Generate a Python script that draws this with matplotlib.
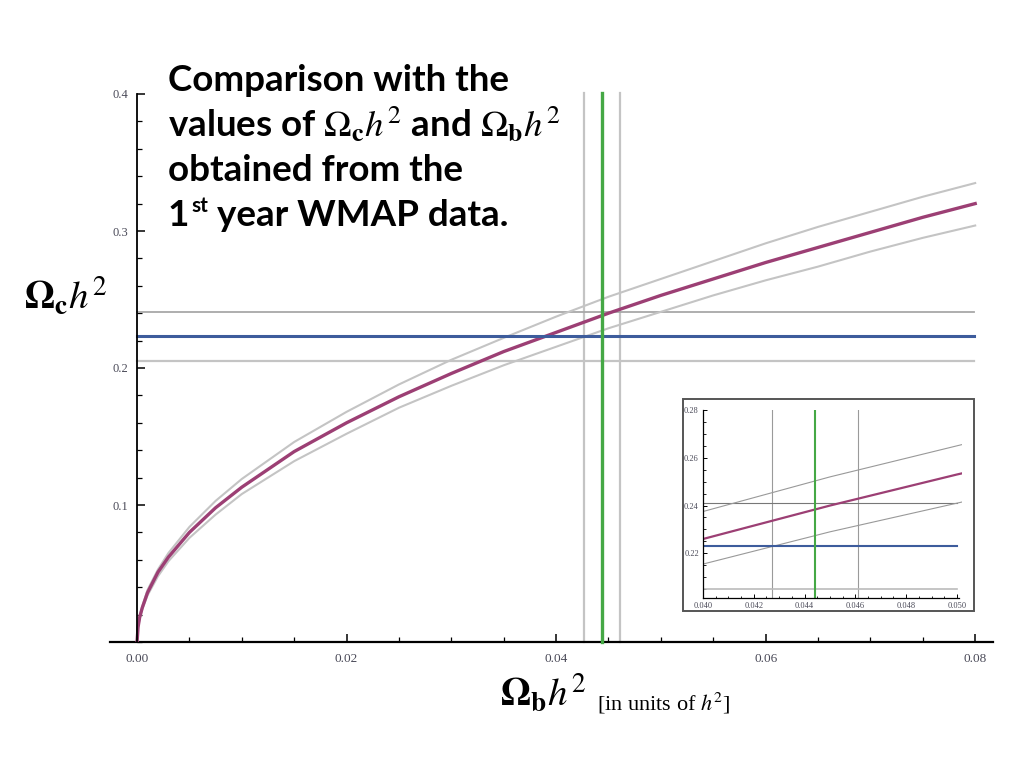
import matplotlib
matplotlib.use("Agg")
import matplotlib.pyplot as plt
from matplotlib.ticker import MultipleLocator, FormatStrFormatter, FixedLocator
from matplotlib.patches import Rectangle

plt.rcParams['mathtext.fontset'] = 'stix'

# ---------------- data ----------------
omega_b = [0, 0.0001, 0.00025, 0.0005, 0.001, 0.002, 0.003, 0.005, 0.0075, 0.01, 0.015,
           0.02, 0.025, 0.03, 0.035, 0.04, 0.045, 0.05, 0.055, 0.06, 0.065,
           0.07, 0.075, 0.08]
omega_c_mid = [0, 0.011, 0.018, 0.025, 0.036, 0.051, 0.062, 0.080, 0.098, 0.113, 0.139,
               0.160, 0.179, 0.196, 0.212, 0.226, 0.240, 0.253, 0.265, 0.277, 0.288,
               0.299, 0.310, 0.320]
omega_c_upper = [0, 0.0115, 0.019, 0.026, 0.038, 0.053, 0.065, 0.084, 0.103, 0.119, 0.146,
                 0.168, 0.188, 0.206, 0.222, 0.2375, 0.252, 0.265, 0.278, 0.291, 0.303,
                 0.314, 0.325, 0.335]
omega_c_lower = [0, 0.0105, 0.017, 0.024, 0.034, 0.048, 0.059, 0.076, 0.093, 0.108, 0.132,
                 0.152, 0.171, 0.187, 0.202, 0.2155, 0.229, 0.241, 0.253, 0.264, 0.274,
                 0.285, 0.295, 0.304]

wmap_c = 0.223            # Omega_c h^2 central
wmap_c_band = [0.205, 0.241]
wmap_b = 0.0444           # Omega_b h^2 central
wmap_b_band = [0.0427, 0.0461]

main_xticks = [0.00, 0.02, 0.04, 0.06, 0.08]
main_yticks = [0.1, 0.2, 0.3, 0.4]
inset_xticks = [0.040, 0.042, 0.044, 0.046, 0.048, 0.050]
inset_yticks = [0.22, 0.24, 0.26, 0.28]

# ---------------- styling ----------------
PURPLE = '#9c3f74'
BLUE = '#3d5c9c'
GREEN = '#45a845'
LGRAY = '#c4c4c4'
MGRAY = '#a8a8a8'
TICKC = '#4a4a58'

W, H = 1024, 768
fig = plt.figure(figsize=(10.24, 7.68), dpi=100)


def rect(x0, y0, x1, y1):
    return [x0 / W, 1 - y1 / H, (x1 - x0) / W, (y1 - y0) / H]


def ftext(x, y, s, **kw):
    return fig.text(x / W, 1 - y / H, s, va='baseline', ha='left', **kw)


# ---------------- main axes ----------------
ax = fig.add_axes(rect(110, 94, 993, 642))
ax.set_xlim(-0.00258, 0.0817)
ax.set_ylim(0, 0.4)

for xv in wmap_b_band:
    ax.plot([xv, xv], [0, 0.401], color=LGRAY, lw=1.6, clip_on=False, zorder=2)
ax.plot([0, 0.0799], [wmap_c_band[1]] * 2, color=MGRAY, lw=1.3, zorder=2)
ax.plot([0, 0.0799], [wmap_c_band[0]] * 2, color=LGRAY, lw=1.6, zorder=2)
ax.plot(omega_b, omega_c_upper, color=LGRAY, lw=1.5, zorder=3)
ax.plot(omega_b, omega_c_lower, color=LGRAY, lw=1.5, zorder=3)
ax.plot(omega_b, omega_c_mid, color=PURPLE, lw=2.4, zorder=4)
ax.plot([0, 0.0799], [wmap_c] * 2, color=BLUE, lw=2.2, zorder=5)
ax.plot([wmap_b, wmap_b], [0, 0.401], color=GREEN, lw=2.4, clip_on=False, zorder=6)

ax.spines['top'].set_visible(False)
ax.spines['right'].set_visible(False)
ax.spines['left'].set_position(('data', 0))
ax.spines['left'].set_bounds(0, 0.4)
ax.spines['left'].set_linewidth(1.3)
ax.spines['bottom'].set_linewidth(1.6)
ax.spines['left'].set_zorder(7)

ax.xaxis.set_major_locator(FixedLocator(main_xticks))
ax.xaxis.set_minor_locator(MultipleLocator(0.005))
ax.xaxis.set_major_formatter(FormatStrFormatter('%.2f'))
ax.yaxis.set_major_locator(FixedLocator(main_yticks))
ax.yaxis.set_minor_locator(MultipleLocator(0.02))
ax.yaxis.set_major_formatter(FormatStrFormatter('%.1f'))
ax.tick_params(which='both', direction='in', colors='black', labelcolor=TICKC,
               labelfontfamily='Liberation Serif')
ax.tick_params(axis='x', which='major', length=6, width=1.1, pad=8, labelsize=9.5)
ax.tick_params(axis='x', which='minor', length=3.5, width=0.9)
ax.tick_params(axis='y', which='major', length=6, width=1.1, pad=6, labelsize=9)
ax.tick_params(axis='y', which='minor', length=3.5, width=0.9)
ax.set_facecolor('none')

# ---------------- inset ----------------
fig.patches.append(Rectangle((683 / W, 1 - 611 / H), (974 - 683) / W, (611 - 399) / H,
                             transform=fig.transFigure, facecolor='white',
                             edgecolor='#555555', lw=1.4, zorder=8))
ins = fig.add_axes(rect(703, 410, 962, 598))
ins.set_zorder(9)
ins.set_xlim(0.040, 0.0502)
ins.set_ylim(0.2013, 0.28)
ins.set_facecolor('none')
for xv in wmap_b_band:
    ins.plot([xv, xv], [0.2013, 0.28], color='#9a9a9a', lw=0.8)
ins.plot([0.040, 0.050], [wmap_c_band[1]] * 2, color='#777777', lw=0.8)
ins.plot([0.040, 0.050], [wmap_c_band[0]] * 2, color='#bbbbbb', lw=1.2)
ins.plot(omega_b, omega_c_upper, color='#999999', lw=0.8)
ins.plot(omega_b, omega_c_lower, color='#999999', lw=0.8)
ins.plot(omega_b, omega_c_mid, color=PURPLE, lw=1.6)
ins.plot([0.040, 0.050], [wmap_c] * 2, color=BLUE, lw=1.5)
ins.plot([wmap_b, wmap_b], [0.2013, 0.28], color=GREEN, lw=1.5)
ins.spines['top'].set_visible(False)
ins.spines['right'].set_visible(False)
ins.spines['left'].set_linewidth(0.9)
ins.spines['bottom'].set_linewidth(0.9)
ins.spines['bottom'].set_bounds(0.040, 0.0501)
ins.xaxis.set_major_locator(FixedLocator(inset_xticks))
ins.xaxis.set_minor_locator(MultipleLocator(0.0005))
ins.xaxis.set_major_formatter(FormatStrFormatter('%.3f'))
ins.yaxis.set_major_locator(FixedLocator(inset_yticks))
ins.yaxis.set_minor_locator(MultipleLocator(0.005))
ins.yaxis.set_major_formatter(FormatStrFormatter('%.2f'))
ins.tick_params(which='both', direction='in', labelcolor=TICKC, labelsize=6,
                labelfontfamily='Liberation Serif')
ins.tick_params(which='major', length=3, width=0.7, pad=3)
ins.tick_params(which='minor', length=1.8, width=0.6)

# ---------------- texts ----------------
tkw = dict(family='Lato', weight='bold', fontsize=26.5, color='black')
ftext(168, 91, 'Comparison with the', **tkw)
ftext(168, 136, r'values of $\Omega_{\mathbf{c}}h^2$ and $\Omega_{\mathbf{b}}h^2$', **tkw)
ftext(168, 181, 'obtained from the', **tkw)
t1 = ftext(168, 226, '1', **tkw)
renderer = fig.canvas.get_renderer()
x_after_1 = t1.get_window_extent(renderer).x1
t_st = ftext(x_after_1 + 2, 212, 'st', family='Lato', weight='bold', fontsize=15,
             color='black')
x_after_st = t_st.get_window_extent(renderer).x1
ftext(x_after_st + 9, 226, 'year WMAP data.', **tkw)

ftext(24, 308, r'$\mathbf{\Omega_c}h^2$', fontsize=28, color='black')
ftext(500, 705, r'$\mathbf{\Omega_b}h^2$', fontsize=28, color='black')
ftext(597, 710, r'[in units of $h^2$]', family='Liberation Serif', fontsize=16, color='black')

fig.savefig('out.png', dpi=100, facecolor='white')
